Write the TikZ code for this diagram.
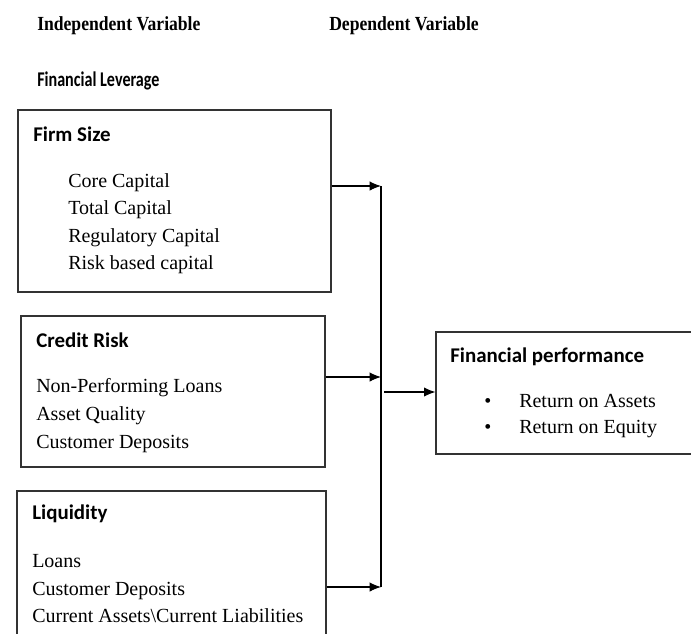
\documentclass[tikz,border=0pt]{standalone}
\usepackage{fontspec}
\setmainfont{Liberation Serif}
\newfontfamily\headfont{Carlito}
\usetikzlibrary{arrows.meta}

\tikzset{
  box/.style={draw=black!80, line width=0.9pt, rectangle, inner sep=0pt},
  varlabel/.style={anchor=base west, inner sep=0pt, font=\fontsize{15}{18}\selectfont\bfseries},
  head/.style={anchor=base west, inner sep=0pt, font=\headfont\fontsize{15.7}{19}\selectfont\bfseries},
  item/.style={anchor=base west, inner sep=0pt, font=\fontsize{15}{18}\selectfont},
  bus/.style={line width=0.8pt},
  link/.style={line width=0.8pt, -{Latex[length=8.5pt,width=7pt]}}
}

\begin{document}
\begin{tikzpicture}[x=0.75pt, y=-0.75pt]
\clip (0,0) rectangle (691,633);
\fill[white] (0,0) rectangle (691,633);

\node[varlabel] (indep) at (37,30) {\scalebox{0.88}[1]{Independent Variable}};
\node[varlabel] (dep) at (329,30) {\scalebox{0.88}[1]{Dependent Variable}};
\node[head] (lev) at (37,86) {\scalebox{0.77}[1]{Financial Leverage}};

\node[box, minimum width=234.75pt, minimum height=136.5pt] (fs) at (174.5,201) {};
\node[head] (fstitle) at (33,141) {Firm Size};
\node[item] (core) at (68,187) {Core Capital};
\node[item] (total) at (68,214) {Total Capital};
\node[item] (reg) at (68,242) {Regulatory Capital};
\node[item] (risk) at (68,269) {Risk based capital};

\node[box, minimum width=228pt, minimum height=113.25pt] (cr) at (173,391.5) {};
\node[head] (crtitle) at (36,347) {Credit Risk};
\node[item] (npl) at (36,392) {Non-Performing Loans};
\node[item] (aq) at (36,420) {Asset Quality};
\node[item] (cd) at (36,448) {Customer Deposits};

\node[box, minimum width=231.75pt, minimum height=126.75pt] (liq) at (171.5,575.5) {};
\node[head] (liqtitle) at (32,519) {Liquidity};
\node[item] (loans) at (32,567) {Loans};
\node[item] (liqcd) at (32,595) {Customer Deposits};
\node[item] (ca) at (32,622) {Current Assets\textbackslash Current Liabilities};

\node[box, minimum width=213pt, minimum height=91.5pt] (fp) at (578,393) {};
\node[head] (fptitle) at (450,362) {Financial performance};
\node[item] (b1) at (484,407) {\textbullet};
\node[item] (roa) at (519,407) {Return on Assets};
\node[item] (b2) at (484,433) {\textbullet};
\node[item] (roe) at (519,433) {Return on Equity};

\coordinate (j1) at (381,186);
\coordinate (j2) at (381,377);
\coordinate (j3) at (381,587);
\coordinate (jout) at (384,392);

\draw[link] (fs.east |- j1) -- (j1);
\draw[link] (cr.east |- j2) -- (j2);
\draw[link] (liq.east |- j3) -- (j3);
\draw[bus] (j1) -- (j3);
\draw[link] (jout) -- (fp.west |- jout);
\end{tikzpicture}
\end{document}
